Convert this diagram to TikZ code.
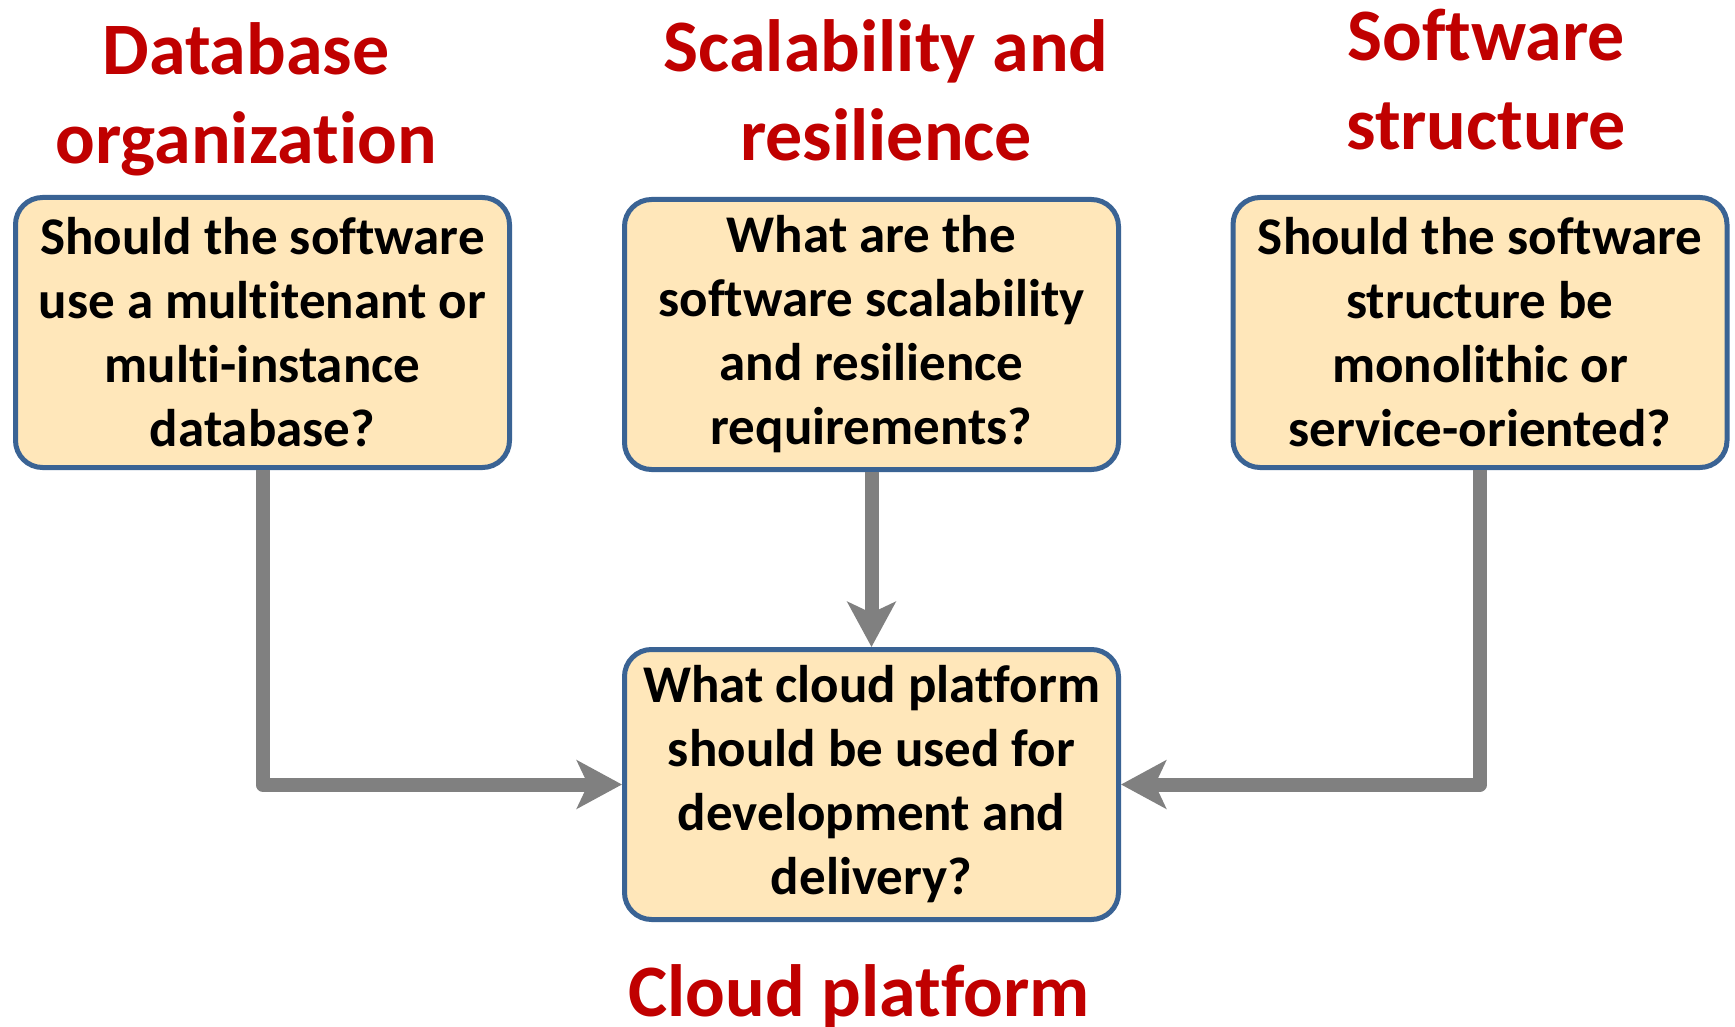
\documentclass[tikz,border=0pt]{standalone}
\usepackage{fontspec}
\setmainfont{Carlito}[Ligatures=CommonOff]
\usetikzlibrary{arrows.meta}
\definecolor{boxfill}{HTML}{FFE7BA}
\definecolor{boxborder}{HTML}{3A6394}
\definecolor{titlered}{HTML}{C00000}
\definecolor{linegray}{HTML}{808080}
\begin{document}
\begin{tikzpicture}[x=1pt,y=-1pt,
  qbox/.style={draw=boxborder, fill=boxfill, line width=5pt, rounded corners=27pt,
    minimum width=494pt, minimum height=270pt, inner sep=0pt, align=center,
    font=\fontsize{53}{64}\selectfont\bfseries},
  ttl/.style={text=titlered, align=center, anchor=base, inner sep=0pt,
    font=\fontsize{74}{89}\selectfont\bfseries},
  conn/.style={draw=linegray, line width=14pt, line join=round,
    -{Stealth[length=45pt, width=48pt, inset=11pt]}}]
\useasboundingbox (0,0) rectangle (1735,1027);
\fill[white] (0,0) rectangle (1735,1027);

\node[qbox] (db) at (262.5,332.5) {Should the software\\use a multitenant or\\multi-instance\\database?};
\node[qbox] (sc) at (871.5,334.5) {What are the\\software scalability\\and resilience\\requirements?};
\node[qbox] (sw) at (1480,332.5) {Should the software\\structure be\\monolithic or\\service-oriented?};
\node[qbox] (cp) at (871.5,784.5) {What cloud platform\\should be used for\\development and\\delivery?};

\node[ttl] (tdb) at (246,164) {Database\\organization};
\node[ttl] (tsc) at (886,161) {Scalability and\\resilience};
\node[ttl] (tsw) at (1486,150) {Software\\structure};
\node[ttl] (tcp) at (859,1016) {Cloud platform};

\draw[conn] (db.south) |- (cp.west);
\draw[conn] (sc.south) -- (cp.north);
\draw[conn] (sw.south) |- (cp.east);
\end{tikzpicture}
\end{document}
